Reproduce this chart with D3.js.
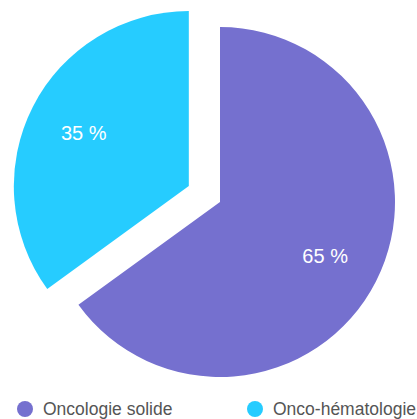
<!DOCTYPE html>
<html>
<head>
<meta charset="utf-8">
<script src="https://cdn.jsdelivr.net/npm/d3@7"></script>
<style>
  body { margin: 0; background: #fff; }
  svg { display: block; font-family: "Liberation Sans", Arial, sans-serif; }
</style>
</head>
<body>
<div id="chart"></div>
<script>
const categories = ["Oncologie solide", "Onco-hématologie"];
const values = [65, 35];
const colors = ["#7570cf", "#26ccff"];

const width = 417;
const height = 419;
const cx = 220;
const cy = 202;
const radius = 175;
const explode = 35;

const svg = d3.select("#chart")
  .append("svg")
  .attr("width", width)
  .attr("height", height);

const data = categories.map((c, i) => ({ name: c, value: values[i], color: colors[i] }));

const pie = d3.pie().sort(null).value((d) => d.value);
const arc = d3.arc().innerRadius(0).outerRadius(radius);
const labelArc = d3.arc().innerRadius(118).outerRadius(118);

const arcs = pie(data);

const slices = svg.append("g")
  .attr("transform", `translate(${cx},${cy})`)
  .selectAll("g")
  .data(arcs)
  .enter()
  .append("g")
  .attr("transform", (d, i) => {
    if (i !== 1) return null;
    const mid = (d.startAngle + d.endAngle) / 2;
    return `translate(${Math.sin(mid) * explode},${-Math.cos(mid) * explode})`;
  });

slices.append("path")
  .attr("d", arc)
  .attr("fill", (d) => d.data.color);

slices.append("text")
  .attr("transform", (d) => `translate(${labelArc.centroid(d)})`)
  .attr("text-anchor", "middle")
  .attr("dy", "0.35em")
  .attr("fill", "#fff")
  .style("font-size", "20px")
  .text((d) => `${d.data.value} %`);

// legend
const legend = svg.append("g")
  .selectAll("g")
  .data(data)
  .enter()
  .append("g")
  .attr("transform", (d, i) => `translate(25,409)`)
  .attr("transform", (d, i) => `translate(${25 + i * 230},409)`);

legend.append("circle")
  .attr("r", 8)
  .attr("fill", (d) => d.color);

legend.append("text")
  .attr("x", 18)
  .attr("dy", "0.35em")
  .attr("fill", "#555")
  .style("font-size", "17.5px")
  .text((d) => d.name);
</script>
</body>
</html>
